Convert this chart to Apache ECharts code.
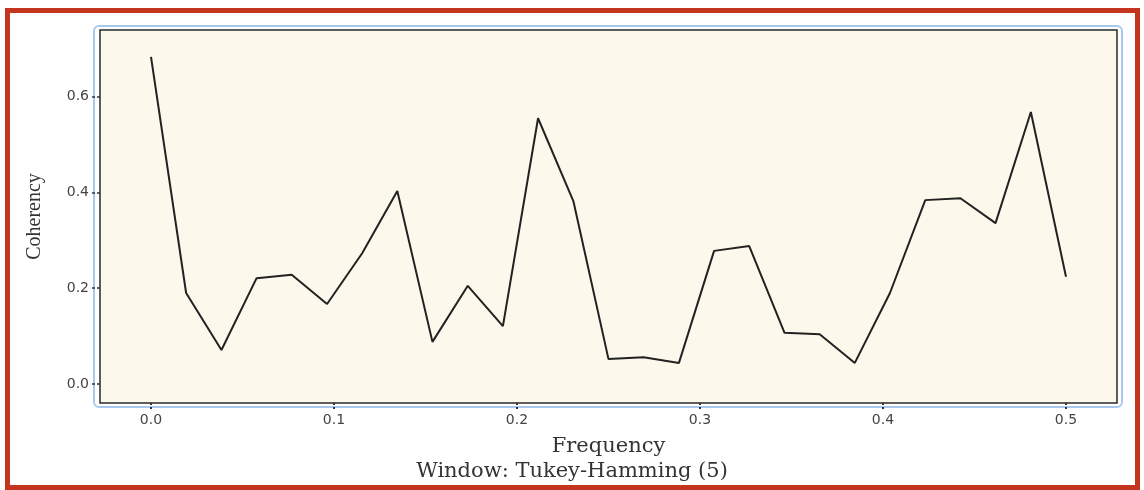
<!DOCTYPE html>
<html>
<head>
<meta charset="utf-8">
<title>Coherency</title>
<script src="https://cdn.jsdelivr.net/npm/echarts@6/dist/echarts.min.js"></script>
<style>
    html, body { margin: 0; padding: 0; background: #ffffff; }
    #chart { width: 1144px; height: 490px; }
</style>
</head>
<body>
<div id="chart"></div>
<script>
    // frequencies of the estimates (27 points from 0 to 0.5)
    var frequency = [0, 0.0192, 0.0385, 0.0577, 0.0769, 0.0962, 0.1154, 0.1346, 0.1538,
        0.1731, 0.1923, 0.2115, 0.2308, 0.25, 0.2692, 0.2885, 0.3077, 0.3269, 0.3462,
        0.3654, 0.3846, 0.4038, 0.4231, 0.4423, 0.4615, 0.4808, 0.5];
    var coherency = [0.683, 0.19, 0.071, 0.221, 0.228, 0.167, 0.273, 0.403, 0.088,
        0.205, 0.121, 0.555, 0.382, 0.052, 0.056, 0.044, 0.278, 0.288, 0.107,
        0.104, 0.044, 0.19, 0.384, 0.388, 0.336, 0.568, 0.224];
    var xTicks = [0, 0.1, 0.2, 0.3, 0.4, 0.5];
    var yTicks = [0, 0.2, 0.4, 0.6];
    var xTitle = 'Frequency';
    var yTitle = 'Coherency';
    var subTitle = 'Window: Tukey-Hamming (5)';

    var points = [];
    for (var i = 0; i < frequency.length; i++) {
        points.push([frequency[i], coherency[i]]);
    }

    var labelStyle = {
        fontFamily: 'DejaVu Sans',
        fontSize: 14,
        color: '#444444'
    };

    var chart = echarts.init(document.getElementById('chart'));

    chart.setOption({
        animation: false,
        backgroundColor: '#ffffff',
        title: {
            text: subTitle,
            left: 'center',
            top: 461,
            padding: 0,
            textStyle: {
                fontFamily: 'DejaVu Serif',
                fontSize: 21,
                fontWeight: 'normal',
                color: '#333333'
            }
        },
        graphic: [
            // outer red frame
            {
                type: 'rect',
                shape: { x: 7.5, y: 10.5, width: 1130, height: 477 },
                style: { fill: 'none', stroke: '#c4351f', lineWidth: 5 },
                silent: true
            },
            // light blue rounded frame round the plot
            {
                type: 'rect',
                shape: { x: 94, y: 26, width: 1028, height: 381, r: 5 },
                style: { fill: 'none', stroke: '#a9c9ec', lineWidth: 2 },
                silent: true,
                z: -1
            }
        ],
        grid: {
            left: 100,
            top: 30,
            right: 27,
            bottom: 87,
            show: true,
            backgroundColor: '#fcf8ec',
            borderColor: '#2a2a2a',
            borderWidth: 1.5
        },
        xAxis: {
            type: 'value',
            min: -0.02787,
            max: 0.52787,
            name: xTitle,
            nameLocation: 'middle',
            nameGap: 33,
            nameTextStyle: {
                fontFamily: 'DejaVu Serif',
                fontSize: 21,
                color: '#333333'
            },
            axisLine: { show: false, onZero: false },
            splitLine: { show: false },
            axisTick: {
                show: true,
                length: 8,
                customValues: xTicks,
                lineStyle: { color: '#333333', width: 2, type: [2, 2] }
            },
            axisLabel: Object.assign({
                margin: 10,
                customValues: xTicks,
                formatter: function (v) { return v.toFixed(1); }
            }, labelStyle)
        },
        yAxis: {
            type: 'value',
            min: -0.0397,
            max: 0.7393,
            name: yTitle,
            nameLocation: 'middle',
            nameRotate: 90,
            nameGap: 55,
            nameTextStyle: {
                fontFamily: 'Liberation Serif',
                fontSize: 20,
                color: '#333333'
            },
            axisLine: { show: false, onZero: false },
            splitLine: { show: false },
            axisTick: {
                show: true,
                length: 8,
                customValues: yTicks,
                lineStyle: { color: '#333333', width: 1.5, type: [3, 2] }
            },
            axisLabel: Object.assign({
                margin: 11,
                customValues: yTicks,
                formatter: function (v) { return v.toFixed(1); }
            }, labelStyle)
        },
        series: [{
            type: 'line',
            data: points,
            showSymbol: false,
            lineStyle: { color: '#222222', width: 2 },
            silent: true
        }]
    });
</script>
</body>
</html>
